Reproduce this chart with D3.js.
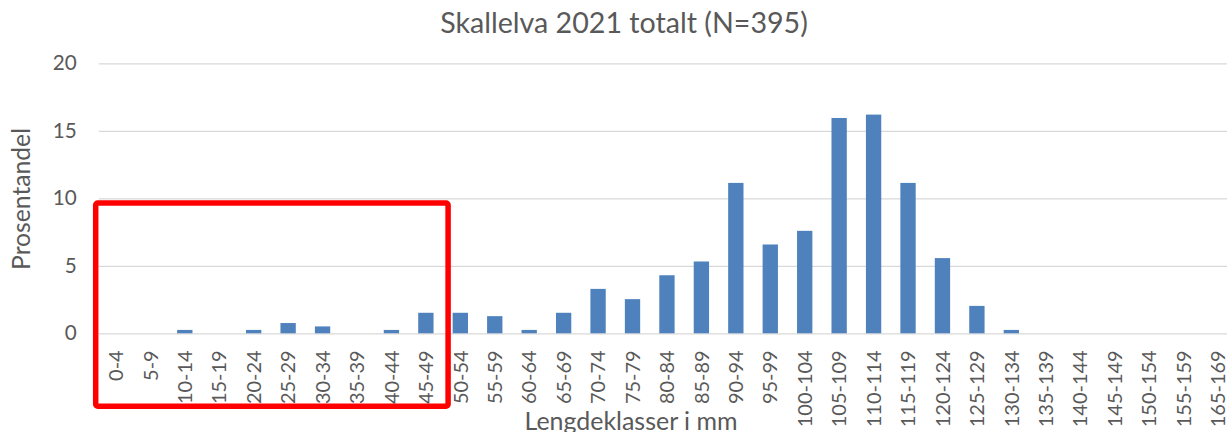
<!DOCTYPE html>
<html>
  <head>
    <meta charset="utf-8">
    <style>
      body { margin: 0; background: #fff; }
      text { font-family: Lato, "Open Sans", sans-serif; fill: #595959; }
    </style>
  </head>
  <body>
    <div id="chart"></div>

    <script src="https://d3js.org/d3.v7.min.js"></script>
    <script>

    // length classes (note: 160-164 is missing in the original)
    var categories = ["0-4", "5-9", "10-14", "15-19", "20-24", "25-29", "30-34", "35-39", "40-44", "45-49",
                      "50-54", "55-59", "60-64", "65-69", "70-74", "75-79", "80-84", "85-89", "90-94", "95-99",
                      "100-104", "105-109", "110-114", "115-119", "120-124", "125-129", "130-134", "135-139",
                      "140-144", "145-149", "150-154", "155-159", "165-169"]

    // percent of fish in each class
    var percent = [0, 0, 0.25, 0, 0.25, 0.76, 0.51, 0, 0.25, 1.52,
                   1.52, 1.27, 0.25, 1.52, 3.29, 2.53, 4.30, 5.32, 11.14, 6.58,
                   7.59, 15.95, 16.20, 11.14, 5.57, 2.03, 0.25, 0,
                   0, 0, 0, 0, 0]

    var yTicks = [0, 5, 10, 15, 20]

    var title = "Skallelva 2021 totalt (N=395)"
    var xTitle = "Lengdeklasser i mm"
    var yTitle = "Prosentandel"

    var width = 1227,
        height = 432,
        mLeft = 98.7,
        mRight = 1235.2,
        mTop = 63.3,
        mBottom = 333.3

    var svg = d3.select("#chart")
      .append("svg")
        .attr("width", width)
        .attr("height", height)

    // scale a text's font so it is as long as the one in the original picture
    function fitFont(sel, sample, target) {
      var t = svg.append("text").style("font-size", "20px").text(sample)
      var w = t.node().getComputedTextLength()
      t.remove()
      sel.style("font-size", (20 * target / w) + "px")
    }

    var x = d3.scaleBand()
      .domain(categories)
      .range([mLeft, mRight])

    var y = d3.scaleLinear()
      .domain([0, 20])
      .range([mBottom, mTop])

    // gridlines + y labels
    var yAxis = svg.append("g")
      .attr("transform", "translate(" + mLeft + ",0)")
      .call(d3.axisLeft(y).tickValues(yTicks).tickSize(-(mRight - mLeft)).tickPadding(22))
    yAxis.select(".domain").remove()
    yAxis.selectAll("line").attr("stroke", "#d9d9d9").attr("stroke-width", 1.3)
    yAxis.selectAll("text")
      .attr("fill", "#595959")
      .attr("font-family", null)
    fitFont(yAxis.selectAll("text"), "20", 24)

    // bars
    var barW = x.bandwidth() * 0.445
    svg.selectAll(".bar")
      .data(percent)
      .enter()
      .append("rect")
        .attr("class", "bar")
        .attr("x", function(d, i) { return x(categories[i]) + (x.bandwidth() - barW) / 2 })
        .attr("y", function(d) { return y(d) })
        .attr("width", barW)
        .attr("height", function(d) { return y(0) - y(d) })
        .attr("fill", "#4f81bd")

    // x labels, rotated
    var xAxis = svg.append("g")
      .attr("transform", "translate(0," + mBottom + ")")
      .call(d3.axisBottom(x).tickSize(0).tickPadding(0))
    xAxis.select(".domain").remove()
    xAxis.selectAll("text")
      .attr("transform", "rotate(-90)")
      .attr("x", -17)
      .attr("y", 0)
      .attr("dy", "0.36em")
      .attr("text-anchor", "end")
      .attr("fill", "#595959")
      .attr("font-family", null)
    fitFont(xAxis.selectAll("text"), "100-104", 77)

    // titles
    var t1 = svg.append("text")
      .attr("x", 624)
      .attr("y", 33)
      .attr("text-anchor", "middle")
      .text(title)
    fitFont(t1, title, 368)

    var t2 = svg.append("text")
      .attr("x", 631)
      .attr("y", 430)
      .attr("text-anchor", "middle")
      .text(xTitle)
    fitFont(t2, xTitle, 213)

    var t3 = svg.append("text")
      .attr("transform", "translate(30," + 199 + ") rotate(-90)")
      .attr("text-anchor", "middle")
      .text(yTitle)
    fitFont(t3, yTitle, 142)

    // red box round the small classes
    svg.append("rect")
      .attr("x", x("0-4") - 3)
      .attr("y", y(9.65))
      .attr("width", x("45-49") + x.bandwidth() + 5 - (x("0-4") - 3))
      .attr("height", y(-5.4) - y(9.65))
      .attr("rx", 2)
      .attr("fill", "none")
      .attr("stroke", "#ff0000")
      .attr("stroke-width", 5.5)

    </script>
  </body>
</html>
